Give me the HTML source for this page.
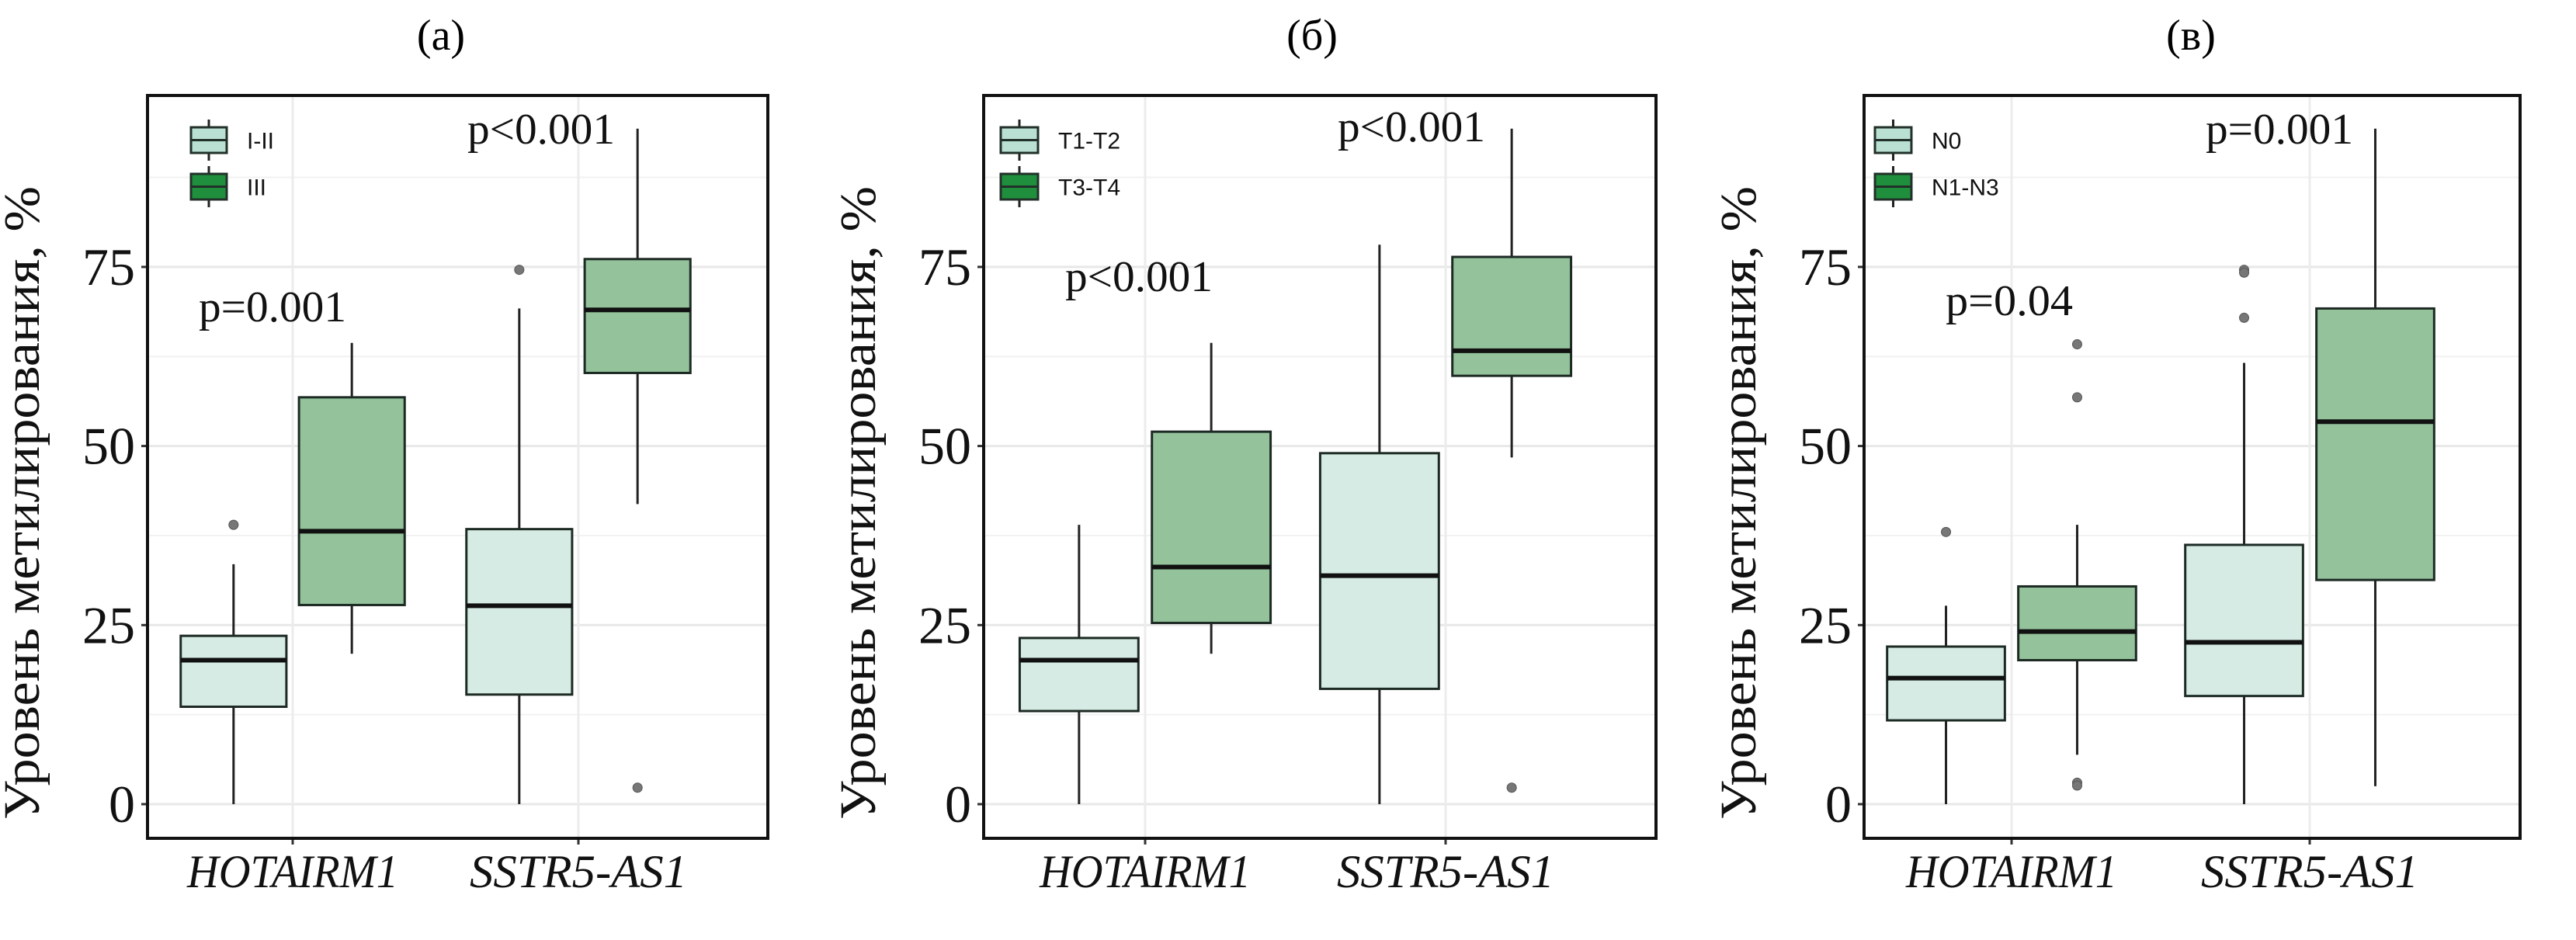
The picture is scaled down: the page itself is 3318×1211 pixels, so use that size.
<!DOCTYPE html>
<html><head><meta charset="utf-8"><style>
html,body{margin:0;padding:0;background:#fff;}
svg{display:block;}
</style></head><body>
<svg id="chart" xmlns="http://www.w3.org/2000/svg" width="3318" height="1211" viewBox="0 0 3318 1211"></svg>
<script>
const genes = ["HOTAIRM1", "SSTR5-AS1"];
const yTicks = [0, 25, 50, 75];
const panelTitles = ["(a)", "(б)", "(в)"];
const legendA = ["I-II", "III"];
const legendB = ["T1-T2", "T3-T4"];
const legendC = ["N0", "N1-N3"];
// [low whisker, Q1, median, Q3, high whisker]
const statsA = [[[0,13.6,20.1,23.5,33.5],[21,27.8,38.1,56.8,64.4]],[[0,15.3,27.7,38.4,69.2],[41.9,60.2,69,76.1,94.3]]];
const outliersA = [[[39],[]],[[74.6],[2.3]]];
const statsB = [[[0,13.0,20.1,23.2,39.0],[21,25.3,33.1,52.0,64.4]],[[0,16.1,31.9,49.0,78.1],[48.4,59.8,63.3,76.4,94.3]]];
const outliersB = [[[],[]],[[],[2.3]]];
const statsC = [[[0,11.7,17.6,22.0,27.7],[6.9,20.1,24.1,30.4,39]],[[0,15.1,22.6,36.2,61.6],[2.5,31.3,53.4,69.2,94.3]]];
const outliersC = [[[38],[64.2,56.8,3.0,2.6]],[[74.6,74.2,67.9],[]]];
const pA = ["p=0.001", "p<0.001"];
const pB = ["p<0.001", "p<0.001"];
const pC = ["p=0.04", "p=0.001"];

const NS="http://www.w3.org/2000/svg";
const svg=document.getElementById('chart');
const SERIF="font-family:'Liberation Serif', serif";
const SANS="font-family:'Liberation Sans', sans-serif";
function el(tag,attrs,parent){const e=document.createElementNS(NS,tag);for(const k in attrs)e.setAttribute(k,attrs[k]);(parent||svg).appendChild(e);return e;}

const Y0=1036, PX_PER=230.7/25, TOP=123, BOTTOM=1080;
function yScale(v){return Y0 - v*PX_PER;}

const panels=[
 {L:190,R:989,t1:377,t2:745,off:0.207,w:0.37,stats:statsA,out:outliersA,leg:legendA,p:pA,title:panelTitles[0],
  pPos:[[256,414],[602,185]],legX:246,legW:46,legLabX:318,titleX:568,name:'a'},
 {L:1267,R:2133,t1:1475,t2:1862,off:0.22,w:0.395,stats:statsB,out:outliersB,leg:legendB,p:pB,title:panelTitles[1],
  pPos:[[1372,375],[1723,182]],legX:1289,legW:48,legLabX:1363,titleX:1690,name:'b'},
 {L:2401,R:3246,t1:2591,t2:2975,off:0.22,w:0.395,stats:statsC,out:outliersC,leg:legendC,p:pC,title:panelTitles[2],
  pPos:[[2506,406],[2841,185]],legX:2415,legW:47,legLabX:2488,titleX:2822,name:'c'}
];
const fills=["#d5ebe3","#93c29b"];
const legFills=["#b9e0d3","#1f8f3d"];

panels.forEach((P)=>{
  const g=el('g',{});
  
  
  const unit=P.t2-P.t1;
  function xScale(i){return P.t1 + i*unit;}
  const tt=el('text',{x:P.titleX,y:64,style:SERIF,'font-size':56,'text-anchor':'middle',fill:'#000'},g);
  tt.textContent=P.title;
  
  
  const grid=el('g',{},g);
  
  
  for(let v=-12.5; v<=100; v+=12.5){
    const y=yScale(v); if(y<TOP||y>BOTTOM) continue;
    const major=(v%25===0);
    el('line',{x1:P.L,x2:P.R,y1:y,y2:y,stroke:major?'#e8e8e8':'#f2f2f2','stroke-width':major?3:2},grid);
  }
  genes.forEach((gn,i)=>{el('line',{x1:xScale(i),x2:xScale(i),y1:TOP,y2:BOTTOM,stroke:'#ececec','stroke-width':3},grid);});
  genes.forEach((gn,i)=>{
    [0,1].forEach(k=>{
      const s=P.stats[i][k];
      const cx=xScale(i)+(k===0?-1:1)*P.off*unit;
      const bw=P.w*unit;
      const bg=el('g',{},g);
      
      
      el('line',{x1:cx,x2:cx,y1:yScale(s[4]),y2:yScale(s[3]),stroke:'#222','stroke-width':3},bg);
      el('line',{x1:cx,x2:cx,y1:yScale(s[1]),y2:yScale(s[0]),stroke:'#222','stroke-width':3},bg);
      el('rect',{x:cx-bw/2,y:yScale(s[3]),width:bw,height:yScale(s[1])-yScale(s[3]),fill:fills[k],stroke:'#1d2a24','stroke-width':3},bg);
      el('line',{x1:cx-bw/2,x2:cx+bw/2,y1:yScale(s[2]),y2:yScale(s[2]),stroke:'#111','stroke-width':6},bg);
      P.out[i][k].forEach(o=>{
        const c=el('circle',{cx:cx,cy:yScale(o),r:6,fill:'#777',stroke:'#555','stroke-width':1},bg);
        
        
      });
    });
    const pt=el('text',{x:P.pPos[i][0],y:P.pPos[i][1],style:SERIF,'font-size':56,fill:'#111',textLength:P.name==='c'&&i===0?164:190,lengthAdjust:'spacingAndGlyphs'},g);
    pt.textContent=P.p[i];
    
    
    el('line',{x1:xScale(i),x2:xScale(i),y1:BOTTOM,y2:BOTTOM+8,stroke:'#333','stroke-width':3},g);
    const xl=el('text',{x:xScale(i),y:1143,style:SERIF,'font-size':60,'font-style':'italic','text-anchor':'middle',fill:'#111',textLength:i===0?272:280,lengthAdjust:'spacingAndGlyphs'},g);
    xl.textContent=gn;
    
    
  });
  yTicks.forEach(v=>{
    const y=yScale(v);
    el('line',{x1:P.L-8,x2:P.L,y1:y,y2:y,stroke:'#333','stroke-width':3},g);
    const t=el('text',{x:P.L-16,y:y+23,style:SERIF,'font-size':68,'text-anchor':'end',fill:'#111'},g);
    t.textContent=v;
    
    
  });
  const yt=el('text',{x:0,y:0,transform:'translate('+(P.L-140)+',648) rotate(-90)',style:SERIF,'font-size':66,'text-anchor':'middle',fill:'#111',textLength:816,lengthAdjust:'spacingAndGlyphs'},g);
  yt.textContent='Уровень метилирования, %';
  
  
  el('rect',{x:P.L,y:TOP,width:P.R-P.L,height:BOTTOM-TOP,fill:'none',stroke:'#111','stroke-width':4},g);
  [0,1].forEach(k=>{
    const lg=el('g',{},g);
    
    
    const y1=164+k*60, h=33, cx=P.legX+P.legW/2;
    el('line',{x1:cx,x2:cx,y1:y1-10,y2:y1+h+10,stroke:'#222','stroke-width':3},lg);
    el('rect',{x:P.legX,y:y1,width:P.legW,height:h,fill:legFills[k],stroke:'#223029','stroke-width':3},lg);
    el('line',{x1:P.legX,x2:P.legX+P.legW,y1:y1+h/2,y2:y1+h/2,stroke:'#223029','stroke-width':3},lg);
    const lt=el('text',{x:P.legLabX,y:y1+h/2+11,style:SANS,'font-size':30,fill:'#111'},lg);
    lt.textContent=P.leg[k];
  });
});
</script>
</body></html>
